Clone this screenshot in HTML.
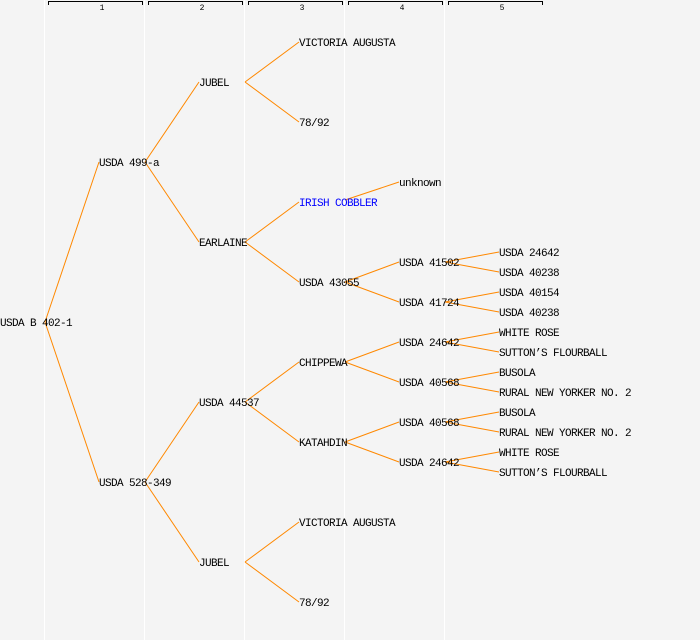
<!DOCTYPE html>
<html><head><meta charset="utf-8"><style>
html,body{margin:0;padding:0;background:#f4f4f4;}
svg{display:block;}
text{font-family:"Liberation Mono",monospace;font-size:11px;letter-spacing:-0.6px;fill:#000;}
</style></head><body>
<svg width="700" height="640" viewBox="0 0 700 640" xmlns="http://www.w3.org/2000/svg">
<rect width="700" height="640" fill="#f4f4f4"/>
<g stroke="#ffffff" stroke-width="1">
<line x1="44.5" y1="0" x2="44.5" y2="640"/>
<line x1="144.5" y1="0" x2="144.5" y2="640"/>
<line x1="244.5" y1="0" x2="244.5" y2="640"/>
<line x1="344.5" y1="0" x2="344.5" y2="640"/>
<line x1="444.5" y1="0" x2="444.5" y2="640"/>
</g>
<g stroke="#000" stroke-width="1" fill="none">
<path d="M48.5 5V1.5H142.5V5"/>
<path d="M148.5 5V1.5H242.5V5"/>
<path d="M248.5 5V1.5H342.5V5"/>
<path d="M348.5 5V1.5H442.5V5"/>
<path d="M448.5 5V1.5H542.5V5"/>
</g>
<g text-anchor="middle">
<text x="102" y="10" style="font-size:8px;letter-spacing:0">1</text>
<text x="202" y="10" style="font-size:8px;letter-spacing:0">2</text>
<text x="302" y="10" style="font-size:8px;letter-spacing:0">3</text>
<text x="402" y="10" style="font-size:8px;letter-spacing:0">4</text>
<text x="502" y="10" style="font-size:8px;letter-spacing:0">5</text>
</g>
<g stroke="#ff8800" stroke-width="1" fill="none">
<path d="M45 322L99 162M45 322L99 482"/>
<path d="M145 162L199 82M145 162L199 242M145 482L199 402M145 482L199 562"/>
<path d="M245 82L299 42M245 82L299 122M245 242L299 202M245 242L299 282M245 402L299 362M245 402L299 442M245 562L299 522M245 562L299 602"/>
<path d="M345 200L399 182M345 282L399 262M345 282L399 302M345 362L399 342M345 362L399 382M345 442L399 422M345 442L399 462"/>
<path d="M445 262L499 252M445 262L499 272M445 302L499 292M445 302L499 312M445 342L499 332M445 342L499 352M445 382L499 372M445 382L499 392M445 422L499 412M445 422L499 432M445 462L499 452M445 462L499 472"/>
</g>
<g>
<text x="0" y="326">USDA B 402-1</text>
<text x="99" y="166">USDA 499-a</text>
<text x="99" y="486">USDA 528-349</text>
<text x="199" y="86">JUBEL</text>
<text x="199" y="246">EARLAINE</text>
<text x="199" y="406">USDA 44537</text>
<text x="199" y="566">JUBEL</text>
<text x="299" y="46">VICTORIA AUGUSTA</text>
<text x="299" y="126">78/92</text>
<text x="299" y="206" style="fill:#0000ff">IRISH COBBLER</text>
<text x="299" y="286">USDA 43055</text>
<text x="299" y="366">CHIPPEWA</text>
<text x="299" y="446">KATAHDIN</text>
<text x="299" y="526">VICTORIA AUGUSTA</text>
<text x="299" y="606">78/92</text>
<text x="399" y="186">unknown</text>
<text x="399" y="266">USDA 41502</text>
<text x="399" y="306">USDA 41724</text>
<text x="399" y="346">USDA 24642</text>
<text x="399" y="386">USDA 40568</text>
<text x="399" y="426">USDA 40568</text>
<text x="399" y="466">USDA 24642</text>
<text x="499" y="256">USDA 24642</text>
<text x="499" y="276">USDA 40238</text>
<text x="499" y="296">USDA 40154</text>
<text x="499" y="316">USDA 40238</text>
<text x="499" y="336">WHITE ROSE</text>
<text x="499" y="356">SUTTON’S FLOURBALL</text>
<text x="499" y="376">BUSOLA</text>
<text x="499" y="396">RURAL NEW YORKER NO. 2</text>
<text x="499" y="416">BUSOLA</text>
<text x="499" y="436">RURAL NEW YORKER NO. 2</text>
<text x="499" y="456">WHITE ROSE</text>
<text x="499" y="476">SUTTON’S FLOURBALL</text>
</g>
</svg>
</body></html>
